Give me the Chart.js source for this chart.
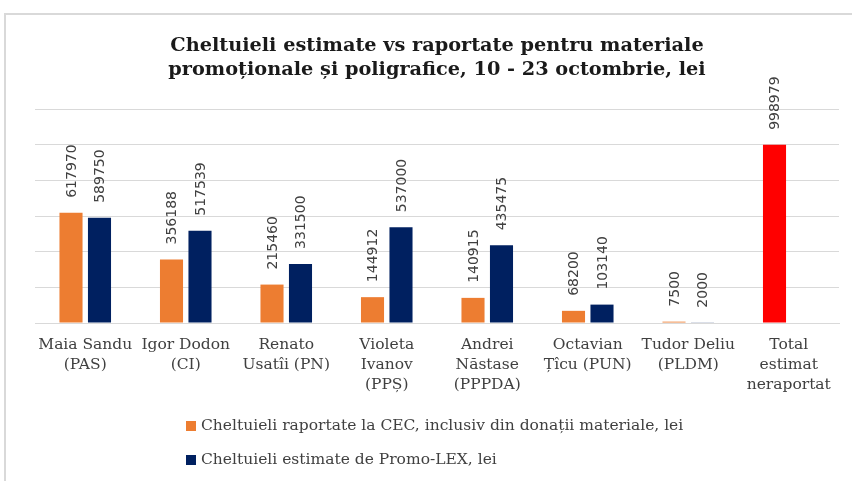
<!DOCTYPE html>
<html>
<head>
<meta charset="utf-8">
<script src="https://cdn.jsdelivr.net/npm/chart.js@4"></script>
<style>
    html, body { margin: 0; padding: 0; background: #fff; }
    #wrap { position: relative; width: 852px; height: 481px; }
</style>
</head>
<body>
<div id="wrap"><canvas id="costChart" width="852" height="481"></canvas></div>
<script>
// Data
const candidates = [
    ['Maia Sandu', '(PAS)'],
    ['Igor Dodon', '(CI)'],
    ['Renato', 'Usatîi (PN)'],
    ['Violeta', 'Ivanov', '(PPȘ)'],
    ['Andrei', 'Năstase', '(PPPDA)'],
    ['Octavian', 'Țîcu (PUN)'],
    ['Tudor Deliu', '(PLDM)'],
    ['Total', 'estimat', 'neraportat']
];
const reported = [617970, 356188, 215460, 144912, 140915, 68200, 7500, 998979];
const estimated = [589750, 517539, 331500, 537000, 435475, 103140, 2000, null];
const yTicks = [0, 200000, 400000, 600000, 800000, 1000000, 1200000];

const reportedLabel = 'Cheltuieli raportate la CEC, inclusiv din donații materiale, lei';
const estimatedLabel = 'Cheltuieli estimate de Promo-LEX, lei';
const titleLines = [
    'Cheltuieli estimate vs raportate pentru materiale',
    'promoționale și poligrafice, 10 - 23 octombrie, lei'
];

const ORANGE = '#ED7D31';
const NAVY = '#002060';
const RED = '#FF0000';
const GRID = '#d9d9d9';
const TEXT = '#404040';

// last orange bar is the unreported total, drawn in red
const reportedColors = reported.map((v, i) => i === reported.length - 1 ? RED : ORANGE);

// Outer frame (only top and left edges visible)
const framePlugin = {
    id: 'frame',
    beforeDraw(chart) {
        const ctx = chart.ctx;
        ctx.save();
        ctx.strokeStyle = GRID;
        ctx.lineWidth = 2;
        ctx.beginPath();
        ctx.moveTo(5, 481);
        ctx.lineTo(5, 14);
        ctx.lineTo(852, 14);
        ctx.stroke();
        ctx.restore();
    }
};

// Vertical value labels above bars
const valueLabels = {
    id: 'valueLabels',
    afterDatasetsDraw(chart) {
        const ctx = chart.ctx;
        ctx.save();
        ctx.font = '14px "DejaVu Sans"';
        ctx.fillStyle = TEXT;
        ctx.textAlign = 'left';
        ctx.textBaseline = 'middle';
        chart.data.datasets.forEach((ds, di) => {
            const meta = chart.getDatasetMeta(di);
            meta.data.forEach((bar, i) => {
                const v = ds.data[i];
                if (v === null || v === undefined) return;
                ctx.save();
                ctx.translate(bar.x + 1, bar.y - 15);
                ctx.rotate(-Math.PI / 2);
                ctx.fillText(String(v), 0, 0);
                ctx.restore();
            });
        });
        ctx.restore();
    }
};

// Stacked legend under the axis labels
const stackedLegend = {
    id: 'stackedLegend',
    afterDraw(chart) {
        const ctx = chart.ctx;
        const rows = [
            { text: reportedLabel, color: ORANGE, y: 426 },
            { text: estimatedLabel, color: NAVY, y: 460 }
        ];
        ctx.save();
        ctx.font = '15.5px "DejaVu Serif"';
        ctx.textBaseline = 'middle';
        ctx.textAlign = 'left';
        rows.forEach(r => {
            ctx.fillStyle = r.color;
            ctx.fillRect(186, r.y - 5, 10, 10);
            ctx.fillStyle = TEXT;
            ctx.fillText(r.text, 201, r.y);
        });
        ctx.restore();
    }
};

const ctx = document.getElementById('costChart').getContext('2d');
const costChart = new Chart(ctx, {
    type: 'bar',
    data: {
        labels: candidates,
        datasets: [
            {
                label: reportedLabel,
                data: reported,
                backgroundColor: reportedColors,
                categoryPercentage: 0.567,
                barPercentage: 0.81
            },
            {
                label: estimatedLabel,
                data: estimated,
                backgroundColor: NAVY,
                categoryPercentage: 0.567,
                barPercentage: 0.81
            }
        ]
    },
    options: {
        responsive: false,
        animation: false,
        layout: { padding: { left: 35, right: 13, top: 0, bottom: 74 } },
        plugins: {
            legend: { display: false },
            tooltip: { enabled: false },
            title: {
                display: true,
                text: titleLines,
                color: '#1a1a1a',
                font: { family: '"DejaVu Serif"', size: 19.3, weight: 'bold', lineHeight: 24 / 19.3 },
                padding: { top: 34, bottom: 27 }
            }
        },
        scales: {
            x: {
                grid: { display: false, drawTicks: false },
                border: { color: GRID, width: 1 },
                ticks: {
                    autoSkip: false,
                    maxRotation: 0,
                    padding: 12,
                    color: TEXT,
                    font: { family: '"DejaVu Serif"', size: 15.5, lineHeight: 20 / 15.5 }
                }
            },
            y: {
                display: true,
                min: yTicks[0],
                max: yTicks[yTicks.length - 1],
                afterBuildTicks: axis => { axis.ticks = yTicks.map(v => ({ value: v })); },
                grid: { color: GRID, drawTicks: false },
                border: { display: false },
                ticks: { display: false }
            }
        }
    },
    plugins: [framePlugin, valueLabels, stackedLegend]
});
</script>
</body>
</html>
